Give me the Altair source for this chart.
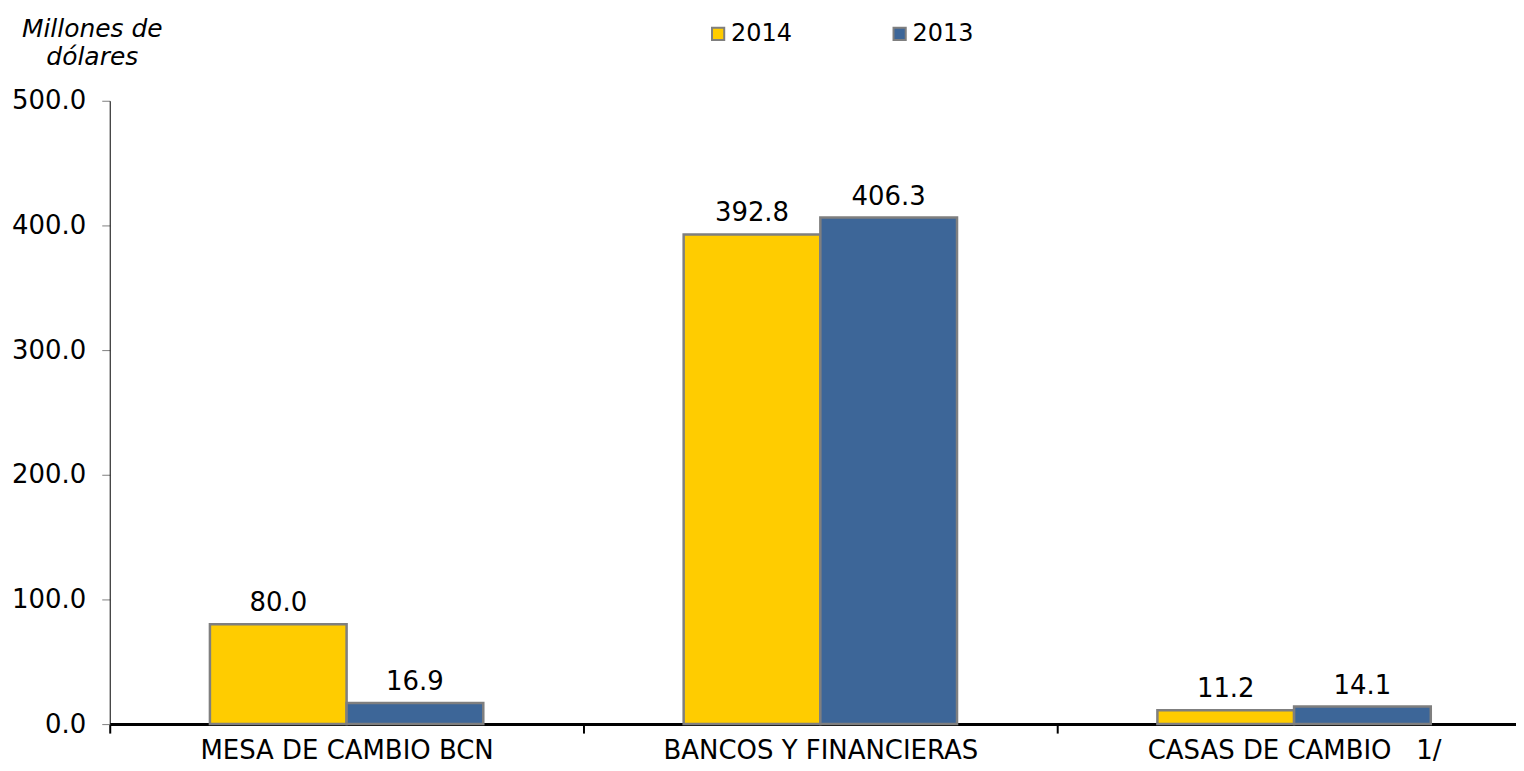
import altair as alt
import pandas as pd

categories = ["MESA DE CAMBIO BCN", "BANCOS Y FINANCIERAS", "CASAS DE CAMBIO\u00a0\u00a0\u00a01/"]
years = ["2014", "2013"]
values_2014 = [80.0, 392.8, 11.2]
values_2013 = [16.9, 406.3, 14.1]
y_ticks = [0, 100, 200, 300, 400, 500]

bar_colors = ["#FFCC00", "#3D6698"]

rows = []
for c, v in zip(categories, values_2014):
    rows.append({"cat": c, "year": "2014", "value": v})
for c, v in zip(categories, values_2013):
    rows.append({"cat": c, "year": "2013", "value": v})
df = pd.DataFrame(rows)

FONT = "DejaVu Sans"
FS = 26

x_enc = alt.X(
    "cat:N",
    sort=categories,
    scale=alt.Scale(range=[0, 1425], paddingInner=0, paddingOuter=0),
    axis=alt.Axis(
        title=None,
        grid=False,
        labelFontSize=FS,
        labelFont=FONT,
        labelColor="#000000",
        labelAngle=0,
        labelLimit=0,
        labelPadding=4,
        domainColor="#000000",
        domainWidth=3,
        tickColor="#000000",
        tickWidth=2,
        tickSize=9,
        tickBand="extent",
    ),
)
xoff_enc = alt.XOffset(
    "year:N", sort=years, scale=alt.Scale(paddingInner=0, paddingOuter=0.733)
)
y_enc = alt.Y(
    "value:Q",
    scale=alt.Scale(domain=[0, 500], nice=False),
    axis=alt.Axis(
        values=y_ticks,
        format=".1f",
        grid=False,
        labelFontSize=FS,
        labelFont=FONT,
        labelColor="#000000",
        labelPadding=16,
        tickSize=8,
        tickColor="#808080",
        domainColor="#000000",
        domainWidth=1,
        title=["Millones de", "dólares"],
        titleAngle=0,
        titleFont=FONT,
        titleFontSize=25,
        titleFontStyle="italic",
        titleFontWeight="normal",
        titleColor="#000000",
        titleAlign="center",
        titleBaseline="alphabetic",
        titleX=-18,
        titleY=-64,
        titleLineHeight=28,
    ),
)

base = alt.Chart(df)

bars = base.mark_bar(stroke="#7F7F7F", strokeWidth=2.5).encode(
    x=x_enc,
    xOffset=xoff_enc,
    y=y_enc,
    fill=alt.Fill(
        "year:N",
        sort=years,
        scale=alt.Scale(domain=years, range=bar_colors),
        legend=alt.Legend(
            title=None,
            orient="none",
            legendX=598,
            legendY=-79,
            direction="horizontal",
            symbolType="square",
            symbolSize=150,
            symbolStrokeColor="#7F7F7F",
            symbolStrokeWidth=2,
            symbolOpacity=1,
            labelFontSize=24,
            labelFont=FONT,
            labelColor="#000000",
            labelOffset=1,
            columnPadding=95,
        ),
    ),
)

labels = base.mark_text(
    baseline="alphabetic", dy=-13, fontSize=FS, font=FONT, color="#000000"
).encode(
    x=alt.X("cat:N", sort=categories),
    xOffset=alt.XOffset("year:N", sort=years),
    y=alt.Y("value:Q"),
    text=alt.Text("value:Q", format=".1f"),
)

chart = (
    alt.layer(bars, labels)
    .properties(
        width=1410,
        height=625,
        background="#ffffff",
        autosize=alt.AutoSizeParams(type="none"),
        padding={"left": 102, "top": 92, "right": 0, "bottom": 40},
    )
    .configure_view(stroke="transparent", strokeWidth=0)
    .configure_axis(grid=False)
)

chart.save("out.html", embed_options={"renderer": "svg", "actions": False})
